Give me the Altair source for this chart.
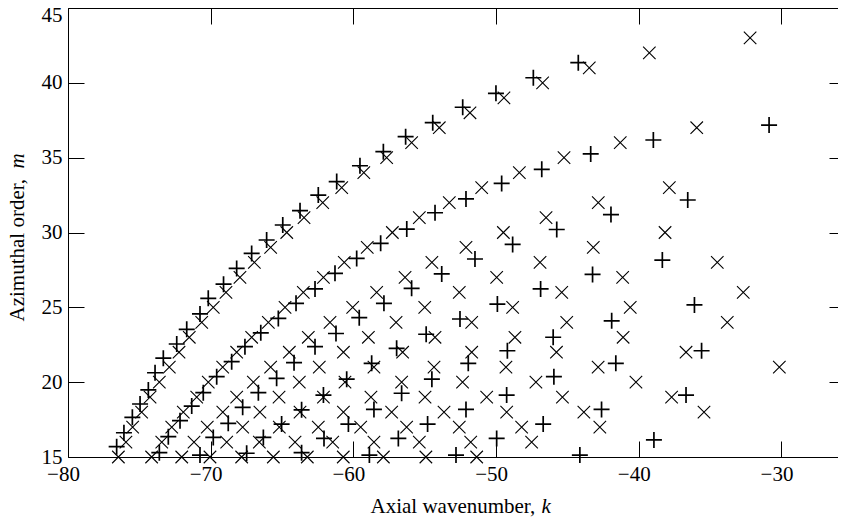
import altair as alt
import pandas as pd

# ---------------- data ----------------
X_TICKS = [-80, -70, -60, -50, -40, -30]
Y_TICKS = [15, 20, 25, 30, 35, 40, 45]

# "x" markers, one list per branch (k values and m values)
xA_k = [-76.47, -75.94, -75.47, -74.84, -74.25, -73.6, -72.9, -72.22, -71.5, -70.63,
        -69.82, -68.93, -67.95, -66.94, -65.8, -64.67, -63.46, -62.15, -60.82, -59.27,
        -57.67, -55.92, -53.98, -51.83, -49.45, -46.74, -43.47, -39.26, -32.2]
xA_m = [15, 16, 17, 18, 19, 20, 21, 22, 23, 24, 25, 26, 27, 28, 29, 30, 31, 32, 33, 34,
        35, 36, 37, 38, 39, 40, 41, 42, 43]
xB_k = [-74.14, -73.43, -72.73, -71.92, -70.98, -70.17, -69.16, -68.18, -67.13, -65.96,
        -64.79, -63.51, -62.1, -60.64, -59.03, -57.27, -55.38, -53.28, -51.01, -48.37,
        -45.24, -41.3, -35.94]
xB_m = [15, 16, 17, 18, 19, 20, 21, 22, 23, 24, 25, 26, 27, 28, 29, 30, 31, 32, 33, 34,
        35, 36, 37]
xC_k = [-72.03, -71.17, -70.24, -69.15, -68.18, -67.01, -65.8, -64.49, -63.16, -61.64,
        -60.05, -58.37, -56.38, -54.5, -52.11, -49.49, -46.5, -42.84, -37.86]
xC_m = [15, 16, 17, 18, 19, 20, 21, 22, 23, 24, 25, 26, 27, 28, 29, 30, 31, 32, 33]
xD_k = [-70.05, -68.88, -67.76, -66.55, -65.21, -63.79, -62.39, -60.7, -58.95, -57.01,
        -55.0, -52.58, -49.96, -46.92, -43.19, -38.16]
xD_m = [15, 16, 17, 18, 19, 20, 21, 22, 23, 24, 25, 26, 27, 28, 29, 30]
xE_k = [-67.83, -66.59, -65.19, -63.74, -62.1, -60.59, -58.56, -56.55, -54.28, -51.71,
        -48.84, -45.4, -41.13, -34.5]
xE_m = [15, 16, 17, 18, 19, 20, 21, 22, 23, 24, 25, 26, 27, 28]
xF_k = [-65.61, -64.09, -62.46, -60.7, -58.77, -56.62, -54.35, -51.71, -48.68, -45.05,
        -40.6, -32.68]
xF_m = [15, 16, 17, 18, 19, 20, 21, 22, 23, 24, 25, 26]
xG_k = [-63.23, -61.45, -59.49, -57.32, -54.98, -52.35, -49.31, -45.77, -41.1, -33.8]
xG_m = [15, 16, 17, 18, 19, 20, 21, 22, 23, 24]
xH_k = [-60.71, -58.56, -56.27, -53.65, -50.66, -47.21, -42.85, -36.69]
xH_m = [15, 16, 17, 18, 19, 20, 21, 22]
xI_k = [-57.9, -55.38, -52.58, -49.26, -45.35, -40.2, -30.15]
xI_m = [15, 16, 17, 18, 19, 20, 21]
xJ_k = [-54.92, -51.78, -48.21, -43.85, -37.7]
xJ_m = [15, 16, 17, 18, 19]
xK_k = [-51.36, -47.51, -42.73, -35.43]
xK_m = [15, 16, 17, 18]

# "+" markers
pA_k = [-76.59, -76.08, -75.49, -74.95, -74.37, -73.9, -73.32, -72.38, -71.68, -70.75,
        -70.17, -69.1, -68.18, -67.13, -66.08, -64.95, -63.74, -62.46, -61.17, -59.54,
        -57.9, -56.34, -54.44, -52.34, -50.01, -47.39, -44.24]
pA_m = [15.69, 16.62, 17.65, 18.54, 19.48, 20.63, 21.6, 22.55, 23.53, 24.56,
        25.6, 26.55, 27.6, 28.6, 29.5, 30.5, 31.46, 32.5, 33.4, 34.46,
        35.4, 36.4, 37.34, 38.37, 39.3, 40.34, 41.35]
pB_k = [-73.6, -72.97, -72.15, -71.33, -70.52, -69.58, -68.53, -67.6, -66.49, -65.26,
        -64.02, -62.69, -61.29, -59.77, -58.09, -56.26, -54.28, -52.11, -49.61, -46.8,
        -43.37, -38.98, -30.87]
pB_m = [15.29, 16.36, 17.43, 18.4, 19.3, 20.37, 21.37, 22.37, 23.3, 24.26,
        25.27, 26.23, 27.27, 28.27, 29.28, 30.23, 31.32, 32.24, 33.28, 34.22,
        35.25, 36.18, 37.18]
pC_k = [-70.75, -69.82, -68.77, -67.76, -66.66, -65.38, -64.16, -62.69, -61.22, -59.59,
        -57.86, -55.92, -53.81, -51.48, -48.84, -45.75, -41.95, -36.57]
pC_m = [15.13, 16.31, 17.25, 18.32, 19.3, 20.26, 21.3, 22.37, 23.25, 24.31,
        25.27, 26.27, 27.23, 28.23, 29.2, 30.2, 31.2, 32.17]
pD_k = [-67.48, -66.31, -65.03, -63.63, -62.1, -60.47, -58.72, -56.97, -54.9, -52.53,
        -49.91, -46.88, -43.24, -38.35]
pD_m = [15.25, 16.31, 17.2, 18.15, 19.14, 20.2, 21.26, 22.26, 23.2, 24.22,
        25.22, 26.23, 27.2, 28.16]
pE_k = [-63.63, -62.06, -60.35, -58.56, -56.62, -54.5, -51.95, -49.21, -46.0, -41.9, -36.1]
pE_m = [15.29, 16.24, 17.2, 18.18, 19.26, 20.2, 21.26, 22.1, 23.0, 24.1, 25.16]
pF_k = [-58.88, -56.85, -54.8, -52.11, -49.26, -45.95, -41.61, -35.6]
pF_m = [15.13, 16.24, 17.2, 18.18, 19.14, 20.37, 21.26, 22.1]
pG_k = [-52.81, -49.96, -46.7, -42.61, -36.69]
pG_m = [15.13, 16.24, 17.2, 18.18, 19.14]
pH_k = [-44.13, -38.94]
pH_m = [15.13, 16.14]

X_TITLE = "Axial wavenumber,"
X_TITLE_VAR = "k"
Y_TITLE = "Azimuthal order,"
Y_TITLE_VAR = "m"

# ---------------- tables ----------------
cross_k = xA_k + xB_k + xC_k + xD_k + xE_k + xF_k + xG_k + xH_k + xI_k + xJ_k + xK_k
cross_m = xA_m + xB_m + xC_m + xD_m + xE_m + xF_m + xG_m + xH_m + xI_m + xJ_m + xK_m
plus_k = pA_k + pB_k + pC_k + pD_k + pE_k + pF_k + pG_k + pH_k
plus_m = pA_m + pB_m + pC_m + pD_m + pE_m + pF_m + pG_m + pH_m

cross_df = pd.DataFrame({"k": cross_k, "m": cross_m})
plus_df = pd.DataFrame({"k": plus_k, "m": plus_m})

# ---------------- styling ----------------
FONT = "Liberation Serif"
FS = 21
W, H = 770, 449
CROSS_PATH = "M-1,-1L1,1M-1,1L1,-1"
PLUS_PATH = "M-1,0L1,0M0,-1L0,1"

xs = alt.Scale(domain=[-80, -26.04], nice=False, zero=False)
ys = alt.Scale(domain=[15, 45], nice=False, zero=False)

common = dict(grid=False, title=None)

ax_bottom = alt.Axis(orient="bottom", values=X_TICKS, ticks=False, tickSize=0,
                     domain=True, domainColor="black", domainWidth=1,
                     labelFont=FONT, labelFontSize=FS, labelColor="black",
                     labelPadding=6, labelOffset=-5, labelFlush=False,
                     labelOverlap=False, format="d", **common)
ax_left = alt.Axis(orient="left", values=Y_TICKS, ticks=False, tickSize=0,
                   domain=True, domainColor="black", domainWidth=1,
                   labelFont=FONT, labelFontSize=FS, labelColor="black",
                   labelPadding=6, labelFlush=False, labelOverlap=False,
                   labelOffset={"condition": {"test": "datum.value == 45", "value": 7},
                                "value": 0},
                   format="d", **common)
ax_bottom_ticks = alt.Axis(orient="bottom", values=X_TICKS, offset=-16, ticks=True,
                           tickSize=16, tickColor="black", tickWidth=1,
                           domain=False, labels=False, **common)
ax_left_ticks = alt.Axis(orient="left", values=Y_TICKS, offset=-16, ticks=True,
                         tickSize=16, tickColor="black", tickWidth=1,
                         domain=False, labels=False, **common)
ax_top_line = alt.Axis(orient="top", values=X_TICKS, ticks=False, domain=True,
                       domainColor="black", domainWidth=1, labels=False, **common)
ax_right_ticks = alt.Axis(orient="right", values=Y_TICKS, offset=-9, ticks=True,
                          tickSize=9, tickColor="black", tickWidth=1,
                          domain=False, labels=False, **common)
ax_top_ticks = alt.Axis(orient="top", values=X_TICKS, offset=-16, ticks=True,
                        tickSize=16, tickColor="black", tickWidth=1,
                        domain=False, labels=False, **common)

crosses = alt.Chart(cross_df).mark_point(
    shape=CROSS_PATH, size=156, filled=False, stroke="black",
    strokeWidth=1.1, opacity=1
).encode(
    x=alt.X("k:Q", scale=xs, axis=ax_bottom),
    y=alt.Y("m:Q", scale=ys, axis=ax_left),
)

pluses = alt.Chart(plus_df).mark_point(
    shape=PLUS_PATH, size=256, filled=False, stroke="black",
    strokeWidth=1.7, opacity=1
).encode(
    x=alt.X("k:Q", scale=xs, axis=ax_bottom_ticks),
    y=alt.Y("m:Q", scale=ys, axis=ax_left_ticks),
)

frame1 = alt.Chart(cross_df).mark_point(opacity=0).encode(
    x=alt.X("k:Q", scale=xs, axis=ax_top_line),
    y=alt.Y("m:Q", scale=ys, axis=ax_right_ticks),
)
frame2 = alt.Chart(cross_df).mark_point(opacity=0).encode(
    x=alt.X("k:Q", scale=xs, axis=ax_top_ticks),
    y=alt.Y("m:Q", scale=ys, axis=None),
)


def label(txt, x, y, angle=0, italic=False):
    return alt.Chart(pd.DataFrame({"t": [txt]})).mark_text(
        font=FONT, fontSize=FS, fontStyle="italic" if italic else "normal",
        align="left", baseline="alphabetic", angle=angle, color="black"
    ).encode(x=alt.value(x), y=alt.value(y), text="t:N")


xt1 = label(X_TITLE, 302.5, 505)
xt2 = label(X_TITLE_VAR, 473.4, 505, italic=True)
yt1 = label(Y_TITLE, -44.5, 313.5, angle=270)
yt2 = label(Y_TITLE_VAR, -44.5, 160.5, angle=270, italic=True)

chart = alt.layer(
    crosses, pluses, frame1, frame2, xt1, xt2, yt1, yt2
).resolve_axis(
    x="independent", y="independent"
).properties(
    width=W, height=H,
    autosize=alt.AutoSizeParams(type="none"),
    padding={"left": 60, "top": 0, "right": 0, "bottom": 63},
).configure_view(stroke=None)

chart.save("out.html", embed_options={"renderer": "svg", "actions": False})
